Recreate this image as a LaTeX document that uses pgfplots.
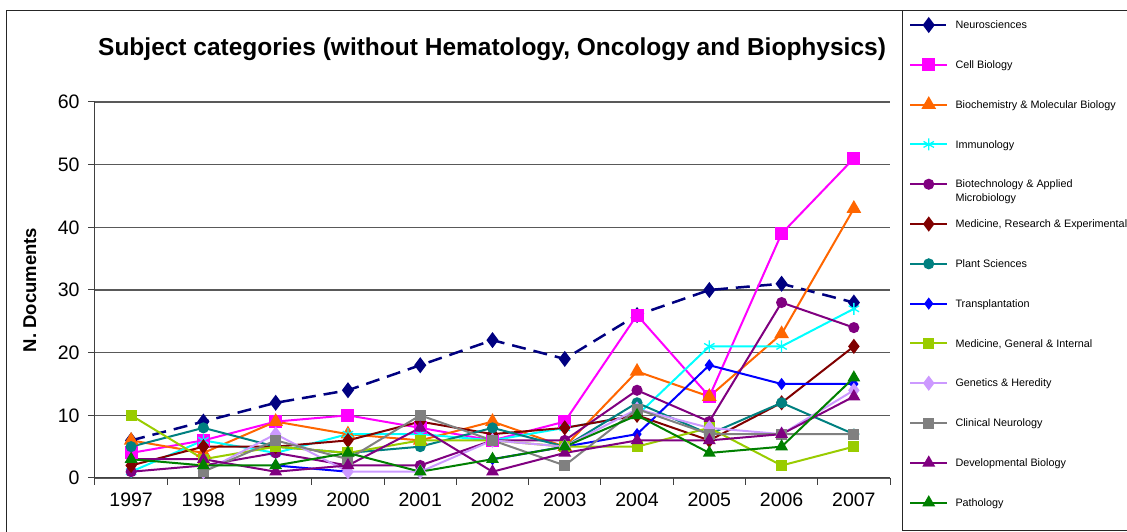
\documentclass[border=0pt]{standalone}
\usepackage{fontspec}
\setmainfont{Liberation Sans}
\usepackage{pgfplots}
\usepackage{pgfplotstable}
\pgfplotsset{compat=1.18}
\definecolor{cneuro}{HTML}{000080}
\definecolor{ccell}{HTML}{FF00FF}
\definecolor{cbio}{HTML}{FF6600}
\definecolor{cimm}{HTML}{00FFFF}
\definecolor{cbiot}{HTML}{800080}
\definecolor{cmedres}{HTML}{800000}
\definecolor{cplant}{HTML}{008080}
\definecolor{ctrans}{HTML}{0000FF}
\definecolor{cmedgen}{HTML}{99CC00}
\definecolor{cgen}{HTML}{CC99FF}
\definecolor{cclin}{HTML}{808080}
\definecolor{cdev}{HTML}{800080}
\definecolor{cpath}{HTML}{008000}
\pgfplotstableread{
x neuro cell biochem immuno biotech medres plant transpl medgen genet clin devbio path
0  6  4  6  1  1  2  5  nan 10 nan nan 3  3
1  9  6  4  6  2  5  8  nan 3  1   1   3  2
2  12 9  9  4  4  5  5  2   5  7   6   1  2
3  14 10 7  7  2  6  4  1   4  1   3   2  4
4  18 8  6  7  2  9  5  nan 6  1   10  8  1
5  22 6  9  6  6  7  8  3   6  6   6   1  3
6  19 9  5  8  6  8  5  5   5  5   2   4  5
7  26 26 17 10 14 10 12 7   5  11  11  6  10
8  30 13 13 21 9  6  7  18  8  8   7   6  4
9  31 39 23 21 28 12 12 15  2  7   7   7  5
10 28 51 43 27 24 21 7  15  5  14  7   13 16
}\data
\begin{document}
\begin{tikzpicture}[x=1pt,y=1pt]
\path[use as bounding box] (0,0) rectangle (1127,532);
\draw[black!85, line width=1pt] (6,0) -- (6,521) -- (1127,521);
\draw[black!85, line width=1pt] (902.5,521) -- (902.5,1.3) -- (1127,1.3);
\begin{axis}[
  at={(95pt,54pt)}, anchor=south west,
  scale only axis, width=795pt, height=376pt,
  xmin=-0.5, xmax=10.5, ymin=0, ymax=60,
  unbounded coords=jump,
  axis x line*=bottom, axis y line*=left,
  axis line style={-, black!75, line width=1pt},
  ytick={0,10,...,60},
  xtick={0,...,10},
  xticklabels={1997,1998,1999,2000,2001,2002,2003,2004,2005,2006,2007},
  minor xtick={-0.5,0.5,...,10.5},
  major x tick style={draw=none},
  tick align=outside,
  major tick length=7pt, minor tick length=7pt,
  tick style={black!75, line width=1pt},
  ymajorgrids, major grid style={black!65, line width=1.1pt},
  /pgf/number format/assume math mode=true,
  tick label style={font=\fontsize{19.5}{22}\selectfont},
  yticklabel style={xshift=-5pt},
  xticklabel style={yshift=-4pt},
  title={\bfseries Subject categories (without Hematology, Oncology and Biophysics)},
  title style={at={(axis description cs:0.4994,1.125)}, anchor=center, font=\fontsize{24.5}{29}\selectfont},
  ylabel={\bfseries N. Documents},
  ylabel style={at={(axis description cs:-0.0818,0.5)}, anchor=center, font=\fontsize{18.5}{22}\selectfont},
  legend cell align=left,
  legend style={at={(axis description cs:1.0239,1.2240)}, anchor=north west,
    draw=none, fill=none, inner sep=0pt, outer sep=0pt,
    font=\fontsize{10.8}{14}\selectfont, row sep=25.3pt,
    nodes={inner sep=1pt, text height=10pt, text depth=2.5pt},
    /tikz/every odd column/.append style={column sep=6pt}},
  legend image code/.code={\draw[mark repeat=2,mark phase=2,#1] plot coordinates {(0pt,0pt) (18.5pt,0pt) (37pt,0pt)};},
  every axis plot/.append style={line width=2pt},
]
\addplot[cneuro, dash pattern=on 14pt off 8pt, line width=2.5pt, mark=diamond*, mark size=6pt, mark options={solid}] table[x=x,y=neuro]{\data};
\addlegendentry{Neurosciences}
\addplot[ccell, mark=square*, mark size=5.5pt] table[x=x,y=cell]{\data};
\addlegendentry{Cell Biology}
\addplot[cbio, mark=triangle*, mark size=6.5pt] table[x=x,y=biochem]{\data};
\addlegendentry{Biochemistry \& Molecular Biology}
\addplot[cimm, mark=asterisk, mark size=6pt, mark options={line width=1.3pt}] table[x=x,y=immuno]{\data};
\addlegendentry{Immunology}
\addplot[cbiot, mark=*, mark size=4.5pt] table[x=x,y=biotech]{\data};
\addlegendentry{\smash{\begin{tabular}[t]{@{}l@{}}Biotechnology \& Applied\\Microbiology\end{tabular}}}
\addplot[cmedres, mark=diamond*, mark size=6pt] table[x=x,y=medres]{\data};
\addlegendentry{Medicine, Research \& Experimental}
\addplot[cplant, mark=*, mark size=4.5pt] table[x=x,y=plant]{\data};
\addlegendentry{Plant Sciences}
\addplot[ctrans, mark=diamond*, mark size=4.5pt] table[x=x,y=transpl]{\data};
\addlegendentry{Transplantation}
\addplot[cmedgen, mark=square*, mark size=4.5pt] table[x=x,y=medgen]{\data};
\addlegendentry{Medicine, General \& Internal}
\addplot[cgen, mark=diamond*, mark size=6pt] table[x=x,y=genet]{\data};
\addlegendentry{Genetics \& Heredity}
\addplot[cclin, mark=square*, mark size=4.5pt] table[x=x,y=clin]{\data};
\addlegendentry{Clinical Neurology}
\addplot[cdev, mark=triangle*, mark size=5.5pt] table[x=x,y=devbio]{\data};
\addlegendentry{Developmental Biology}
\addplot[cpath, mark=triangle*, mark size=5.5pt] table[x=x,y=path]{\data};
\addlegendentry{Pathology}
\end{axis}
\end{tikzpicture}
\end{document}
